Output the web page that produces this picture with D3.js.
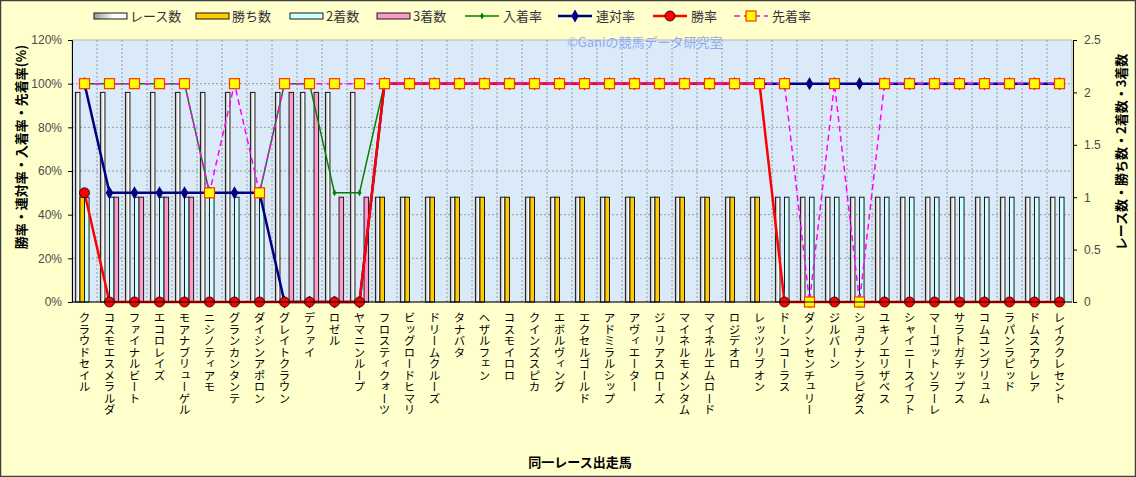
<!DOCTYPE html>
<html>
<head>
<meta charset="utf-8">
<script src="https://cdn.jsdelivr.net/npm/d3@7/dist/d3.min.js"></script>
<style>
  body { margin: 0; background: #fff; }
  svg { display: block; font-family: "Noto Sans CJK JP", "Noto Sans", sans-serif; }
</style>
</head>
<body>
<div id="chart"></div>
<script>
// horses in the same race
const horses = [
  "クラウドセイル", "コスモエスメラルダ", "ファイナルビート", "エコロレイズ", "モアナブリューゲル",
  "ニシノティアモ", "グランカンタンテ", "ダイシンアポロン", "グレイトクラウン", "デファイ",
  "ロゼル", "ヤマニンループ", "フロスティクォーツ", "ビッグロードヒマリ", "ドリームクルーズ",
  "タナバタ", "ヘザルフェン", "コスモイロロ", "クインズスピカ", "エボルヴィング",
  "エクセルゴールド", "アドミラルシップ", "アヴィエーター", "ジュリアスローズ", "マイネルモメンタム",
  "マイネルエムロード", "ロジデオロ", "レッツリブオン", "ドーンコーラス", "ダノンセンチュリー",
  "ジルバーン", "ショウナンラピダス", "ユキノエリザベス", "シャイニースイフト", "マーゴットソラーレ",
  "サラトガチップス", "コムユンブリュム", "ラパンラピッド", "ドムスアウレア", "レイククレセント"
];

// counts (right axis)
const races  = [2,2,2,2,2, 2,2,2,2,2, 2,2,1,1,1, 1,1,1,1,1, 1,1,1,1,1, 1,1,1,1,1, 1,1,1,1,1, 1,1,1,1,1];
const wins   = [1,0,0,0,0, 0,0,0,0,0, 0,0,1,1,1, 1,1,1,1,1, 1,1,1,1,1, 1,1,1,0,0, 0,0,0,0,0, 0,0,0,0,0];
const second = [1,1,1,1,1, 1,1,1,0,0, 0,0,0,0,0, 0,0,0,0,0, 0,0,0,0,0, 0,0,0,1,1, 1,1,1,1,1, 1,1,1,1,1];
const third  = [0,1,1,1,1, 0,0,0,2,2, 1,1,0,0,0, 0,0,0,0,0, 0,0,0,0,0, 0,0,0,0,0, 0,0,0,0,0, 0,0,0,0,0];

// rates (left axis, %)
const placeRate = [100,100,100,100,100, 50,50,50,100,100, 50,50,100,100,100, 100,100,100,100,100,
                   100,100,100,100,100, 100,100,100,100,100, 100,100,100,100,100, 100,100,100,100,100];
const rentaiRate = [100,50,50,50,50, 50,50,50,0,0, 0,0,100,100,100, 100,100,100,100,100,
                    100,100,100,100,100, 100,100,100,100,100, 100,100,100,100,100, 100,100,100,100,100];
const winRate = [50,0,0,0,0, 0,0,0,0,0, 0,0,100,100,100, 100,100,100,100,100,
                 100,100,100,100,100, 100,100,100,0,0, 0,0,0,0,0, 0,0,0,0,0];
const aheadRate = [100,100,100,100,100, 50,100,50,100,100, 100,100,100,100,100, 100,100,100,100,100,
                   100,100,100,100,100, 100,100,100,100,0, 100,0,100,100,100, 100,100,100,100,100];

const rateTicks = [0, 20, 40, 60, 80, 100, 120];
const countTicks = [0, 0.5, 1, 1.5, 2, 2.5];

const W = 1136, H = 477;
const plot = { left: 72, right: 1072, top: 40, bottom: 302 };

const svg = d3.select("#chart").append("svg")
  .attr("width", W).attr("height", H);

const defs = svg.append("defs");
const grad = defs.append("linearGradient").attr("id", "raceGrad")
  .attr("x1", "0").attr("x2", "1").attr("y1", "0").attr("y2", "0");
grad.append("stop").attr("offset", "0%").attr("stop-color", "#9a9a9a");
grad.append("stop").attr("offset", "60%").attr("stop-color", "#ffffff");
grad.append("stop").attr("offset", "100%").attr("stop-color", "#f4f4f4");

// page background
svg.append("rect").attr("x", 0.5).attr("y", 0.5).attr("width", W - 1).attr("height", H - 1)
  .attr("fill", "#ffffcc").attr("stroke", "#404040").attr("stroke-width", 1.5);

const x0 = d3.scaleBand().domain(horses).range([plot.left, plot.right]).padding(0);
const barKeys = ["races", "wins", "second", "third"];
const x1 = d3.scaleBand().domain(barKeys).range([0, x0.bandwidth()]).paddingOuter(0.75);
const yRate = d3.scaleLinear().domain([0, 120]).range([plot.bottom, plot.top]);
const yCount = d3.scaleLinear().domain([0, 2.5]).range([plot.bottom, plot.top]);

// plot area
svg.append("rect").attr("x", plot.left).attr("y", plot.top)
  .attr("width", plot.right - plot.left).attr("height", plot.bottom - plot.top)
  .attr("fill", "#dbeaf8").attr("stroke", "#b8b8b8");

// grid
svg.append("g").selectAll("line").data(rateTicks.slice(1, -1)).join("line")
  .attr("x1", plot.left).attr("x2", plot.right)
  .attr("y1", d => yRate(d)).attr("y2", d => yRate(d))
  .attr("stroke", "#9a9a9a").attr("stroke-dasharray", "2,2");
svg.append("g").selectAll("line").data(horses.slice(1)).join("line")
  .attr("x1", d => x0(d)).attr("x2", d => x0(d))
  .attr("y1", plot.top).attr("y2", plot.bottom)
  .attr("stroke", "#9a9a9a").attr("stroke-dasharray", "2,2");

// bars
const barSeries = [
  { key: "races", values: races, fill: "url(#raceGrad)" },
  { key: "wins", values: wins, fill: "#ffcc00" },
  { key: "second", values: second, fill: "#ccffff" },
  { key: "third", values: third, fill: "#ff99cc" }
];
barSeries.forEach(s => {
  svg.append("g").selectAll("rect").data(horses).join("rect")
    .filter((d, i) => s.values[i] > 0)
    .attr("x", d => x0(d) + x1(s.key))
    .attr("y", d => yCount(s.values[horses.indexOf(d)]))
    .attr("width", x1.bandwidth())
    .attr("height", d => yCount(0) - yCount(s.values[horses.indexOf(d)]))
    .attr("fill", s.fill).attr("stroke", "#1a1a1a").attr("stroke-width", 1);
});

// lines
const cx = d => x0(d) + x0.bandwidth() / 2;
const lineSeries = [
  { name: "入着率", values: placeRate, color: "#008000", width: 1.5, dash: null, marker: "diamondS" },
  { name: "連対率", values: rentaiRate, color: "#000080", width: 2.5, dash: null, marker: "diamond" },
  { name: "勝率", values: winRate, color: "#ff0000", width: 2.5, dash: null, marker: "circle" },
  { name: "先着率", values: aheadRate, color: "#ff00ff", width: 1.5, dash: "6,4", marker: "square" }
];

function drawMarker(g, type, x, y) {
  if (type === "diamondS") {
    g.append("path").attr("d", d3.symbol(d3.symbolDiamond, 14)()).attr("transform", `translate(${x},${y})`)
      .attr("fill", "#008000");
  } else if (type === "diamond") {
    g.append("path").attr("d", d3.symbol(d3.symbolDiamond, 50)()).attr("transform", `translate(${x},${y})`)
      .attr("fill", "#000080");
  } else if (type === "circle") {
    g.append("circle").attr("cx", x).attr("cy", y).attr("r", 5)
      .attr("fill", "#ff0000").attr("stroke", "#000").attr("stroke-width", 0.8);
  } else if (type === "square") {
    g.append("rect").attr("x", x - 5).attr("y", y - 5).attr("width", 10).attr("height", 10)
      .attr("fill", "#ffff00").attr("stroke", "#ff3300").attr("stroke-width", 1.2);
  }
}

lineSeries.forEach(s => {
  const line = d3.line().x(d => cx(d)).y(d => yRate(s.values[horses.indexOf(d)]));
  const g = svg.append("g");
  g.append("path").datum(horses).attr("d", line)
    .attr("fill", "none").attr("stroke", s.color).attr("stroke-width", s.width)
    .attr("stroke-dasharray", s.dash);
  horses.forEach((h, i) => drawMarker(g, s.marker, cx(h), yRate(s.values[i])));
});

// axes
const axisLeft = svg.append("g").attr("transform", `translate(${plot.left},0)`)
  .call(d3.axisLeft(yRate).tickValues(rateTicks).tickFormat(d => d + "%").tickSize(4));
const axisRight = svg.append("g").attr("transform", `translate(${plot.right + 1},0)`)
  .call(d3.axisRight(yCount).tickValues(countTicks).tickFormat(d => String(d)).tickSize(4));
[axisLeft, axisRight].forEach(a => {
  a.select(".domain").attr("stroke", "#000");
  a.selectAll(".tick line").attr("stroke", "#000");
  a.selectAll("text").attr("font-size", 12).attr("fill", "#4a4a4a")
    .attr("font-family", "Arial, 'Liberation Sans', sans-serif");
});
axisLeft.selectAll("text").attr("x", -10);
axisRight.selectAll("text").attr("x", 11);

svg.append("line").attr("x1", plot.left).attr("x2", plot.right)
  .attr("y1", plot.bottom).attr("y2", plot.bottom).attr("stroke", "#000");

// category labels (vertical)
svg.append("g").selectAll("text").data(horses).join("text")
  .attr("x", d => cx(d)).attr("y", plot.bottom + 10)
  .style("writing-mode", "vertical-rl")
  .style("text-orientation", "upright")
  .attr("font-size", 11.5).attr("fill", "#000")
  .text(d => d);

// axis titles
svg.append("text").attr("transform", `translate(26,147) rotate(-90)`)
  .attr("text-anchor", "middle").attr("font-size", 13).attr("font-weight", "bold")
  .text("勝率・連対率・入着率・先着率(%)");
svg.append("text").attr("transform", `translate(1126,152) rotate(-90)`)
  .attr("text-anchor", "middle").attr("font-size", 13).attr("font-weight", "bold")
  .text("レース数・勝ち数・2着数・3着数");
svg.append("text").attr("x", 580).attr("y", 467)
  .attr("text-anchor", "middle").attr("font-size", 13).attr("font-weight", "bold")
  .text("同一レース出走馬");

// watermark
svg.append("text").attr("x", 567).attr("y", 47)
  .attr("font-size", 13).attr("fill", "#7f9cf0").attr("fill-opacity", 0.85)
  .text("©Ganiの競馬データ研究室");

// legend
const legend = svg.append("g").attr("font-size", 13).attr("fill", "#333");
const legendBars = [
  { name: "レース数", fill: "url(#raceGrad)", x: 94 },
  { name: "勝ち数", fill: "#ffcc00", x: 196 },
  { name: "2着数", fill: "#ccffff", x: 290 },
  { name: "3着数", fill: "#ff99cc", x: 377 }
];
legendBars.forEach(b => {
  legend.append("rect").attr("x", b.x).attr("y", 13).attr("width", 33).attr("height", 6)
    .attr("fill", b.fill).attr("stroke", "#1a1a1a");
  legend.append("text").attr("x", b.x + 36).attr("y", 21).text(b.name);
});
const legendLineX = [465, 558, 653, 734];
lineSeries.forEach((s, i) => {
  const lx = legendLineX[i];
  legend.append("line").attr("x1", lx).attr("x2", lx + 34).attr("y1", 16).attr("y2", 16)
    .attr("stroke", s.color).attr("stroke-width", s.width).attr("stroke-dasharray", s.dash);
  drawMarker(legend, s.marker, lx + 17, 16);
  legend.append("text").attr("x", lx + 38).attr("y", 21).text(s.name);
});
</script>
</body>
</html>
